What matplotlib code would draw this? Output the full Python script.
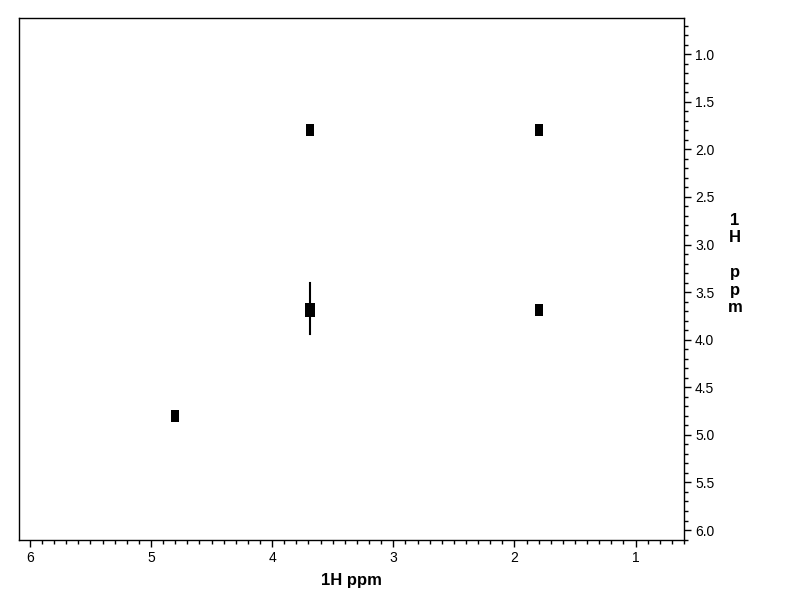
import matplotlib
matplotlib.use("Agg")
import matplotlib.pyplot as plt
from matplotlib.ticker import MultipleLocator

plt.rcParams['font.family'] = ['Liberation Sans', 'DejaVu Sans']

# cross peaks (F2 ppm, F1 ppm)
peak_f2 = [3.69, 1.80, 3.69, 1.80, 4.80]
peak_f1 = [1.80, 1.80, 3.69, 3.69, 4.80]
peak_size = [9, 9, 10, 8, 9]

# t1 noise streak on the 3.69 diagonal peak
streak_f2 = 3.69
streak_f1 = [3.40, 3.94]

xticks = [6, 5, 4, 3, 2, 1]
yticks = [1.0, 1.5, 2.0, 2.5, 3.0, 3.5, 4.0, 4.5, 5.0, 5.5, 6.0]

# tall narrow blob shape for the contour peaks
blob = [(-2, -3), (2, -3), (2, 3), (-2, 3), (-2, -3)]

fig = plt.figure(figsize=(7.92, 6.12), dpi=100)
ax = fig.add_axes([0.024, 0.1176, 0.8396, 0.853])

for x, y, s in zip(peak_f2, peak_f1, peak_size):
    ax.plot(x, y, marker=blob, markersize=s, color='black', linestyle='none',
            markeredgewidth=0)
ax.plot([streak_f2, streak_f2], streak_f1, color='black', linewidth=1.5)

ax.set_xlim(6.09, 0.60)
ax.set_ylim(6.105, 0.62)

ax.set_xticks(xticks)
ax.set_xticklabels([str(t) for t in xticks])
ax.set_yticks(yticks)
ax.set_yticklabels(['%.1f' % t for t in yticks])
ax.xaxis.set_minor_locator(MultipleLocator(0.1))
ax.yaxis.set_minor_locator(MultipleLocator(0.1))

ax.yaxis.tick_right()
ax.tick_params(which='both', direction='out', labelsize=10, pad=3, width=1)
ax.tick_params(which='major', length=5)
ax.tick_params(which='minor', length=3)

for sp in ax.spines.values():
    sp.set_linewidth(1)

ax.set_xlabel('1H ppm', fontsize=12, fontweight='bold', labelpad=6)
fig.text(735 / 792, 1 - 264 / 612, '1\nH\n\np\np\nm', fontsize=12,
         fontweight='bold', ha='center', va='center', linespacing=1.2)

fig.savefig('out.png', dpi=100)
